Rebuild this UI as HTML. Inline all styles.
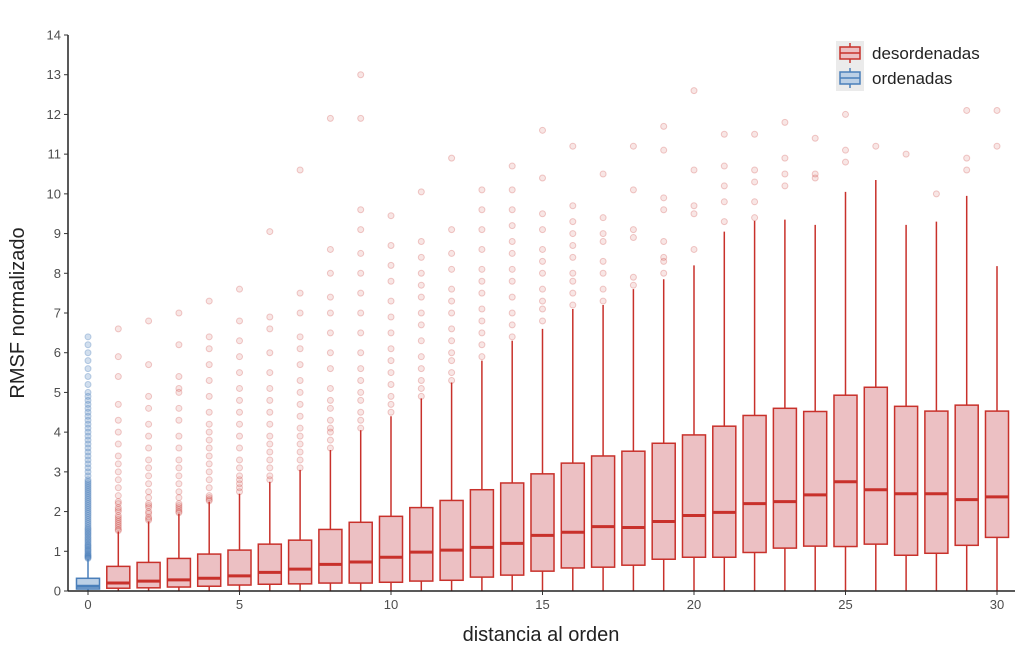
<!DOCTYPE html>
<html><head><meta charset="utf-8"><style>
body{margin:0;background:#fff;}
svg{display:block;font-family:"Liberation Sans",sans-serif;}
</style></head><body>
<svg id="chart" width="1024" height="655" viewBox="0 0 1024 655">
<g id="outliers"></g>
<g id="boxes"></g>
<g id="axes"></g>
<text x="541" y="641" font-size="20" fill="#222" text-anchor="middle">distancia al orden</text>
<text transform="translate(24,313) rotate(-90)" font-size="20" fill="#222" text-anchor="middle">RMSF normalizado</text>
<g>
<rect x="836" y="41" width="28" height="50" fill="#ebebeb"/>
<g>
<line x1="850" y1="43" x2="850" y2="63" stroke="#c8312b" stroke-width="1.5"/>
<rect x="840" y="47" width="20" height="12" fill="#ecc0c3" stroke="#c8312b" stroke-width="1.5"/>
<line x1="840" y1="53" x2="860" y2="53" stroke="#c8312b" stroke-width="1.5"/>
<text x="872" y="59" font-size="17" fill="#222">desordenadas</text>
</g>
<g>
<line x1="850" y1="68" x2="850" y2="88" stroke="#4a7fba" stroke-width="1.5"/>
<rect x="840" y="72" width="20" height="12" fill="#bcd0e6" stroke="#4a7fba" stroke-width="1.5"/>
<line x1="840" y1="78" x2="860" y2="78" stroke="#4a7fba" stroke-width="1.5"/>
<text x="872" y="84" font-size="17" fill="#222">ordenadas</text>
</g>
</g>
</svg>
<script>
const categories=[0,1,2,3,4,5,6,7,8,9,10,11,12,13,14,15,16,17,18,19,20,21,22,23,24,25,26,27,28,29,30];
const groups=["ordenadas","desordenadas","desordenadas","desordenadas","desordenadas","desordenadas","desordenadas","desordenadas","desordenadas","desordenadas","desordenadas","desordenadas","desordenadas","desordenadas","desordenadas","desordenadas","desordenadas","desordenadas","desordenadas","desordenadas","desordenadas","desordenadas","desordenadas","desordenadas","desordenadas","desordenadas","desordenadas","desordenadas","desordenadas","desordenadas","desordenadas"];
const lowWhisker=[0,0,0,0,0,0,0,0,0,0,0,0,0,0,0,0,0,0,0,0,0,0,0,0,0,0,0,0,0,0,0];
const q1=[0.05,0.07,0.08,0.1,0.12,0.15,0.17,0.18,0.2,0.2,0.22,0.25,0.27,0.35,0.4,0.5,0.58,0.6,0.65,0.8,0.85,0.85,0.97,1.08,1.13,1.12,1.18,0.9,0.95,1.15,1.35];
const medians=[0.12,0.2,0.25,0.28,0.32,0.38,0.47,0.55,0.67,0.73,0.85,0.98,1.03,1.1,1.2,1.4,1.48,1.62,1.6,1.75,1.9,1.98,2.2,2.25,2.42,2.75,2.55,2.45,2.45,2.3,2.37];
const q3=[0.32,0.62,0.72,0.82,0.93,1.03,1.18,1.28,1.55,1.73,1.88,2.1,2.28,2.55,2.72,2.95,3.22,3.4,3.52,3.72,3.93,4.15,4.42,4.6,4.52,4.93,5.13,4.65,4.53,4.68,4.53];
const highWhisker=[0.8,1.5,1.75,1.95,2.25,2.45,2.75,3.05,3.55,4.05,4.4,4.85,5.25,5.8,6.3,6.6,7.1,7.2,7.6,7.85,8.2,9.05,9.32,9.35,9.22,10.05,10.35,9.22,9.3,9.95,8.18];
const outliers=[
[0.82,0.84,0.86,0.88,0.9,0.93,0.96,1.0,1.03,1.06,1.1,1.13,1.16,1.2,1.24,1.28,1.32,1.36,1.4,1.44,1.48,1.52,1.56,1.6,1.65,1.7,1.75,1.8,1.85,1.9,1.95,2.0,2.05,2.1,2.15,2.2,2.25,2.3,2.35,2.4,2.45,2.5,2.55,2.6,2.65,2.7,2.75,2.8,2.9,3.0,3.1,3.2,3.3,3.4,3.5,3.6,3.7,3.8,3.9,4.0,4.1,4.2,4.3,4.4,4.5,4.6,4.7,4.8,4.9,5.0,5.2,5.4,5.6,5.8,6.0,6.2,6.4],
[1.52,1.55,1.6,1.65,1.7,1.75,1.8,1.85,1.9,2.0,2.05,2.1,2.2,2.25,2.4,2.6,2.8,3.0,3.2,3.4,3.7,4.0,4.3,4.7,5.4,5.9,6.6],
[1.78,1.82,1.86,1.95,2.0,2.1,2.15,2.2,2.35,2.5,2.7,2.9,3.1,3.3,3.6,3.9,4.2,4.6,4.9,5.7,6.8],
[1.97,2.0,2.05,2.1,2.15,2.2,2.35,2.5,2.7,2.9,3.1,3.3,3.6,3.9,4.3,4.6,5.0,5.1,5.4,6.2,7.0],
[2.27,2.3,2.35,2.4,2.6,2.8,3.0,3.2,3.4,3.6,3.8,4.0,4.2,4.5,4.9,5.3,5.7,6.1,6.4,7.3],
[2.5,2.6,2.7,2.8,2.9,3.1,3.3,3.6,3.9,4.2,4.5,4.8,5.1,5.5,5.9,6.3,6.8,7.6],
[2.8,2.9,3.1,3.3,3.5,3.7,3.9,4.2,4.5,4.8,5.1,5.5,6.0,6.6,6.9,9.05],
[3.1,3.3,3.5,3.7,3.9,4.1,4.4,4.7,5.0,5.3,5.7,6.1,6.4,7.0,7.5,10.6],
[3.6,3.8,4.0,4.1,4.3,4.6,4.8,5.1,5.6,6.0,6.5,7.0,7.4,8.0,8.6,11.9],
[4.1,4.3,4.5,4.8,5.0,5.3,5.6,6.0,6.5,7.0,7.5,8.0,8.5,9.1,9.6,11.9,13.0],
[4.5,4.7,4.9,5.2,5.5,5.8,6.1,6.5,6.9,7.3,7.8,8.2,8.7,9.45],
[4.9,5.1,5.3,5.6,5.9,6.3,6.7,7.0,7.4,7.7,8.0,8.4,8.8,10.05],
[5.3,5.5,5.8,6.0,6.3,6.6,7.0,7.3,7.6,8.1,8.5,9.1,10.9],
[5.9,6.2,6.5,6.8,7.1,7.5,7.8,8.1,8.6,9.1,9.6,10.1],
[6.4,6.7,7.0,7.4,7.8,8.1,8.5,8.8,9.2,9.6,10.1,10.7],
[6.8,7.1,7.3,7.6,8.0,8.3,8.6,9.1,9.5,10.4,11.6],
[7.2,7.5,7.8,8.0,8.4,8.7,9.0,9.3,9.7,11.2],
[7.3,7.6,8.0,8.3,8.8,9.0,9.4,10.5],
[7.7,7.9,8.9,9.1,10.1,11.2],
[8.0,8.3,8.4,8.8,9.6,9.9,11.1,11.7],
[8.6,9.5,9.7,10.6,12.6],
[9.3,9.8,10.2,10.7,11.5],
[9.4,9.8,10.3,10.6,11.5],
[10.2,10.5,10.9,11.8],
[10.4,10.5,11.4],
[10.8,11.1,12.0],
[11.2],
[11.0],
[10.0],
[10.6,10.9,12.1],
[11.2,12.1]
];
const yTicks=[0,1,2,3,4,5,6,7,8,9,10,11,12,13,14];
const xTicks=[0,5,10,15,20,25,30];

const ns="http://www.w3.org/2000/svg";
const X0=88,X1=997,Y0=591,Y1=35;
function xs(v){return X0+(v-0)*(X1-X0)/30;}
function ys(v){return Y0-(v-0)*(Y0-Y1)/14;}
function mk(tag,attrs,parent){const e=document.createElementNS(ns,tag);for(const k in attrs)e.setAttribute(k,attrs[k]);parent.appendChild(e);return e;}
const gO=document.getElementById('outliers'),gB=document.getElementById('boxes'),gA=document.getElementById('axes');
const hw=(xs(1)-xs(0))*0.38;
categories.forEach((c,i)=>{
  const blue=groups[i]==="ordenadas";
  const stroke=blue?"#4a7fba":"#c8312b", fill=blue?"#bcd0e6":"#ecc0c3";
  const cx=xs(c);
  outliers[i].forEach(v=>{
    const p=mk('circle',{cx:cx,cy:ys(v),r:3,fill:stroke,'fill-opacity':blue?0.25:0.12,stroke:stroke,'stroke-opacity':blue?0.35:0.25,'stroke-width':1},gO);
    
    
  });
  const g=mk('g',{},gB);
  
  
  mk('line',{x1:cx,x2:cx,y1:ys(highWhisker[i]),y2:ys(q3[i]),stroke:stroke,'stroke-width':1.5},g);
  mk('line',{x1:cx,x2:cx,y1:ys(q1[i]),y2:ys(lowWhisker[i]),stroke:stroke,'stroke-width':1.5},g);
  mk('rect',{x:cx-hw,y:ys(q3[i]),width:2*hw,height:ys(q1[i])-ys(q3[i]),fill:fill,stroke:stroke,'stroke-width':1.5},g);
  mk('line',{x1:cx-hw,x2:cx+hw,y1:ys(medians[i]),y2:ys(medians[i]),stroke:stroke,'stroke-width':3},g);
});
mk('line',{x1:68,x2:68,y1:Y1,y2:Y0,stroke:'#222','stroke-width':1.5},gA);
mk('line',{x1:68,x2:1015,y1:Y0,y2:Y0,stroke:'#222','stroke-width':1.5},gA);
yTicks.forEach(t=>{
  mk('line',{x1:64,x2:68,y1:ys(t),y2:ys(t),stroke:'#333','stroke-width':1},gA);
  const tx=mk('text',{x:61,y:ys(t)+4.5,'font-size':13,fill:'#4d4d4d','text-anchor':'end'},gA);
  tx.textContent=t;
  
  
});
xTicks.forEach(t=>{
  mk('line',{x1:xs(t),x2:xs(t),y1:Y0,y2:Y0+4,stroke:'#333','stroke-width':1},gA);
  const tx=mk('text',{x:xs(t),y:Y0+18,'font-size':13,fill:'#4d4d4d','text-anchor':'middle'},gA);
  tx.textContent=t;
  
  
});
</script>
</body></html>
